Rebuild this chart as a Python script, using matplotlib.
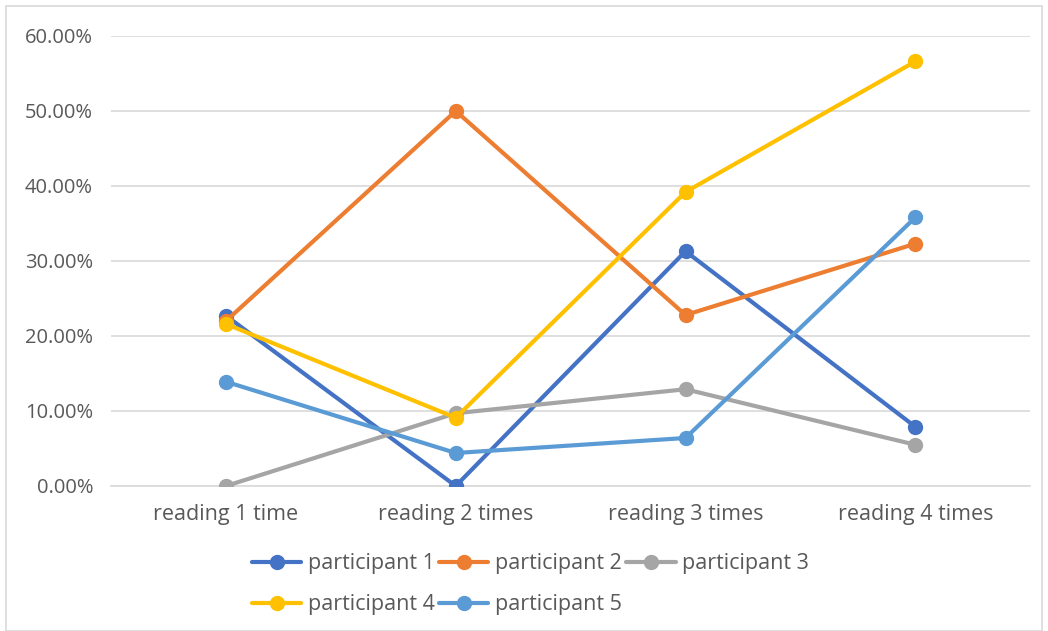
import matplotlib
matplotlib.use('Agg')
import matplotlib.pyplot as plt
from matplotlib.patches import Rectangle
from matplotlib.ticker import FuncFormatter

# Data (fractions)
categories = ['reading 1 time', 'reading 2 times', 'reading 3 times', 'reading 4 times']
participant_1 = [0.227, 0.000, 0.313, 0.079]
participant_2 = [0.220, 0.500, 0.228, 0.323]
participant_3 = [0.000, 0.097, 0.129, 0.055]
participant_4 = [0.216, 0.091, 0.392, 0.566]
participant_5 = [0.139, 0.044, 0.064, 0.358]
series_names = ['participant 1', 'participant 2', 'participant 3', 'participant 4', 'participant 5']
colors = ['#4472C4', '#ED7D31', '#A5A5A5', '#FFC000', '#5B9BD5']

plt.rcParams['font.family'] = ['Open Sans', 'DejaVu Sans']

fig = plt.figure(figsize=(10.48, 6.31), dpi=100)
ax = fig.add_axes([0.106, 0.2298, 0.877, 0.7132])

# outer chart border
fig.patches.append(Rectangle((6 / 1048, 0), 1 - 12 / 1048, 1 - 6 / 631, transform=fig.transFigure,
                             fill=False, edgecolor='#D9D9D9', linewidth=1.2))

x = range(len(categories))
all_series = [participant_1, participant_2, participant_3, participant_4, participant_5]
lines = []
for name, values, c in zip(series_names, all_series, colors):
    ln, = ax.plot(x, values, color=c, linewidth=3, marker='o', markersize=10,
                  label=name, solid_capstyle='round', zorder=3)
    lines.append(ln)

ax.set_xlim(-0.5, 3.5)
ax.set_ylim(0, 0.6)
ax.set_yticks([0, 0.1, 0.2, 0.3, 0.4, 0.5, 0.6])
ax.yaxis.set_major_formatter(FuncFormatter(lambda v, p: f'{v * 100:.2f}%'))
ax.set_xticks(list(x))
ax.set_xticklabels(categories)
ax.grid(axis='y', color='#D9D9D9', linewidth=1.2)
ax.set_axisbelow(True)
for s in ['top', 'right', 'left']:
    ax.spines[s].set_visible(False)
ax.spines['bottom'].set_color('#D9D9D9')
ax.spines['bottom'].set_linewidth(1.2)
ax.tick_params(axis='x', length=0, labelsize=15.5, colors='#595959', pad=13)
ax.tick_params(axis='y', length=0, labelsize=14.5, colors='#595959', pad=13)

# order so rows read p1 p2 p3 / p4 p5
order = [0, 3, 1, 4, 2]
leg = fig.legend([lines[i] for i in order], [series_names[i] for i in order],
                 ncol=3, loc='upper left', bbox_to_anchor=(0.232, 0.137),
                 frameon=False, fontsize=15.5, handlelength=2.3, handletextpad=0.3,
                 columnspacing=0.2, labelspacing=0.94, borderaxespad=0)
for t in leg.get_texts():
    t.set_color('#595959')

fig.savefig('out.png', dpi=100, facecolor='white')
